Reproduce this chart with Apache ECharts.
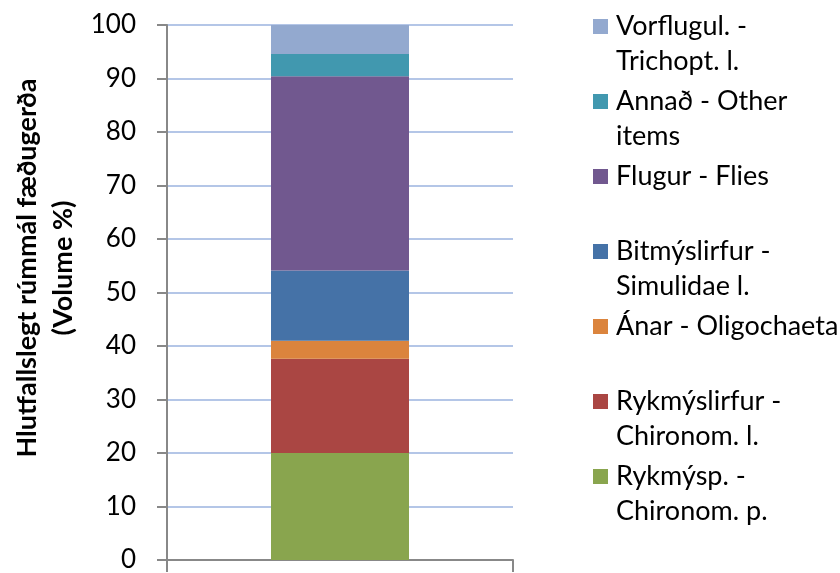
<!DOCTYPE html>
<html>
<head>
<meta charset="utf-8">
<script src="https://cdn.jsdelivr.net/npm/echarts@6/dist/echarts.min.js"></script>
<style>
  html, body { margin: 0; padding: 0; background: #fff; }
  #chart { width: 840px; height: 573px; }
</style>
</head>
<body>
<div id="chart"></div>
<script>
// one stacked bar, bottom segment first
let categories = [''];
let seriesNames = [
  'Rykmýsp. - Chironom. p.',
  'Rykmýslirfur - Chironom. l.',
  'Ánar - Oligochaeta',
  'Bitmýslirfur - Simulidae l.',
  'Flugur - Flies',
  'Annað - Other items',
  'Vorflugul. - Trichopt. l.'
];
let legendLabels = [
  ['Rykmýsp. -', 'Chironom. p.'],
  ['Rykmýslirfur -', 'Chironom. l.'],
  ['Ánar - Oligochaeta', ' '],
  ['Bitmýslirfur -', 'Simulidae l.'],
  ['Flugur - Flies', ' '],
  ['Annað - Other', 'items'],
  ['Vorflugul. -', 'Trichopt. l.']
];
let volumes = [20.0, 17.6, 3.4, 13.1, 36.3, 4.2, 5.4];
let yTicks = { min: 0, max: 100, step: 10 };

let colors = ['#89a54e', '#aa4643', '#db843d', '#4572a7', '#71588f', '#4198af', '#93a9cf'];
let font = 'Lato';

let myChart = echarts.init(document.getElementById('chart'));

let series = seriesNames.map(function (name, i) {
  return {
    name: name,
    type: 'bar',
    stack: 'total',
    barWidth: 138,
    itemStyle: { color: colors[i] },
    data: [volumes[i]]
  };
});

let option = {
  animation: false,
  color: colors,
  grid: { left: 167, right: 327, top: 25, bottom: 8, containLabel: false },
  xAxis: {
    type: 'category',
    data: categories,
    axisLine: { lineStyle: { color: '#888888', width: 2 } },
    axisTick: { show: true, length: 12, lineStyle: { color: '#888888', width: 2 } },
    axisLabel: { show: false },
    splitLine: { show: false }
  },
  yAxis: {
    type: 'value',
    min: yTicks.min,
    max: yTicks.max,
    interval: yTicks.step,
    axisLine: { show: true, lineStyle: { color: '#888888', width: 2 } },
    axisTick: { show: true, length: 10, lineStyle: { color: '#888888', width: 2 } },
    axisLabel: { margin: 31, color: '#000', fontFamily: font, fontSize: 26 },
    splitLine: { lineStyle: { color: '#b4c6e7', width: 2 } }
  },
  legend: {
    orient: 'vertical',
    left: 593,
    top: -26,
    padding: 0,
    itemWidth: 15,
    itemHeight: 15,
    itemGap: -30,
    icon: 'rect',
    data: seriesNames.slice().reverse(),
    // blank first line so the marker sits beside the first text line
    formatter: function (name) {
      return ' \n' + legendLabels[seriesNames.indexOf(name)].join('\n');
    },
    textStyle: {
      color: '#000',
      fontFamily: font,
      fontSize: 27,
      lineHeight: 35,
      padding: [0, 0, 0, 3]
    }
  },
  graphic: [{
    type: 'text',
    x: 45,
    y: 268,
    rotation: Math.PI / 2,
    style: {
      text: 'Hlutfallslegt rúmmál fæðugerða\n(Volume %)',
      font: 'bold 27px ' + font,
      lineHeight: 36,
      align: 'center',
      verticalAlign: 'middle',
      fill: '#000'
    }
  }],
  series: series
};

myChart.setOption(option);
</script>
</body>
</html>
